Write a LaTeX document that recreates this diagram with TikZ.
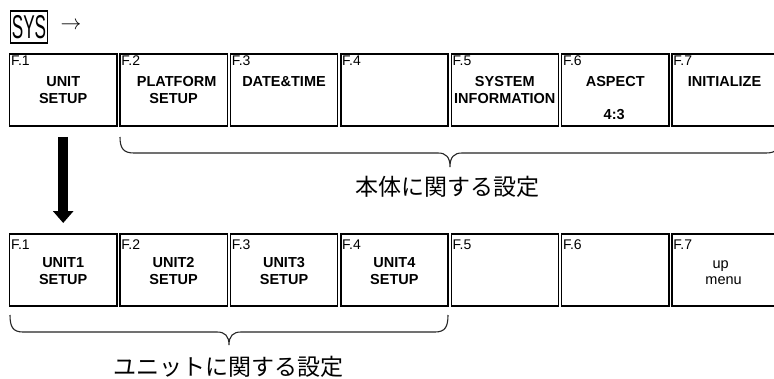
\documentclass[tikz,border=0pt]{standalone}
\usepackage{fontspec}
\setmainfont{Liberation Sans}
\newfontfamily\jpfont{Noto Sans CJK JP}
\usetikzlibrary{calc,arrows.meta}

\tikzset{
  fkey/.style={draw=black, line width=1.4pt, minimum width=107.2pt, minimum height=71.8pt,
               inner sep=0pt, outer sep=0pt, anchor=north west},
  fnum/.style={anchor=base west, inner sep=0pt, font=\fontsize{14}{15}\selectfont},
  fname/.style={anchor=base, inner sep=0pt, font=\fontsize{14.5}{15}\selectfont\bfseries},
  fplain/.style={anchor=base, inner sep=0pt, font=\fontsize{14.5}{15}\selectfont},
  bracepath/.style={draw=black!85, line width=1.1pt},
  jlabel/.style={inner sep=0pt, font=\jpfont\fontsize{23}{23}\selectfont},
  sysbox/.style={draw=black, line width=1.6pt, minimum width=37pt, minimum height=32pt, inner sep=0pt},
  bigarrow/.style={line width=10pt, -{Triangle[width=20pt,length=12pt]}, shorten <=11pt, shorten >=11pt},
}

\newcommand\mykey[5]{% name, x, y, F label, F offset
  \node[fkey] (#1) at (#2,#3) {};
  \node[fnum] (#1f) at ($(#1.north west)+(1.2,#5)$) {#4};
}

\begin{document}
\begin{tikzpicture}[x=1pt,y=-1pt]
\useasboundingbox (0,0) rectangle (774,378);
\fill[white] (0,0) rectangle (774,378);
\clip (0,0) rectangle (774,378);

% header
\node[sysbox] (sys) at (29,26.7) {\scalebox{0.52}[1]{\fontsize{33}{33}\selectfont SYS}};
\node[inner sep=0pt] (arr) at (71,25.5) {\fontsize{20}{20}\selectfont$\rightarrow$};

% top row
\mykey{t1}{9.6}{54}{F.1}{11.7}
\mykey{t2}{120}{54}{F.2}{11.7}
\mykey{t3}{230.4}{54}{F.3}{11.7}
\mykey{t4}{340.8}{54}{F.4}{11.7}
\mykey{t5}{451.2}{54}{F.5}{11.7}
\mykey{t6}{561.6}{54}{F.6}{11.7}
\mykey{t7}{672}{54}{F.7}{11.7}

\node[fname] (t1a) at ($(t1.north)+(0,32)$) {UNIT};
\node[fname] (t1b) at ($(t1.north)+(0,49.3)$) {SETUP};
\node[fname] (t2a) at ($(t2.north)+(3,32)$) {PLATFORM};
\node[fname] (t2b) at ($(t2.north)+(0,49.3)$) {SETUP};
\node[fname] (t3a) at ($(t3.north)+(0,32)$) {DATE\&TIME};
\node[fname] (t5a) at ($(t5.north)+(0,32)$) {SYSTEM};
\node[fname] (t5b) at ($(t5.north)+(0,49.3)$) {INFORMATION};
\node[fname] (t6a) at ($(t6.north)+(0,32)$) {ASPECT};
\node[fname] (t6b) at ($(t6.north)+(-1,65)$) {4:3};
\node[fname] (t7a) at ($(t7.north)+(-1,32)$) {INITIALIZE};

% bottom row
\mykey{b1}{9.6}{234}{F.1}{15.3}
\mykey{b2}{120}{234}{F.2}{15.3}
\mykey{b3}{230.4}{234}{F.3}{15.3}
\mykey{b4}{340.8}{234}{F.4}{15.3}
\mykey{b5}{451.2}{234}{F.5}{15.3}
\mykey{b6}{561.6}{234}{F.6}{15.3}
\mykey{b7}{672}{234}{F.7}{15.3}

\node[fname] (b1a) at ($(b1.north)+(0,33.3)$) {UNIT1};
\node[fname] (b1b) at ($(b1.north)+(0,50)$) {SETUP};
\node[fname] (b2a) at ($(b2.north)+(0,33.3)$) {UNIT2};
\node[fname] (b2b) at ($(b2.north)+(0,50)$) {SETUP};
\node[fname] (b3a) at ($(b3.north)+(0,33.3)$) {UNIT3};
\node[fname] (b3b) at ($(b3.north)+(0,50)$) {SETUP};
\node[fname] (b4a) at ($(b4.north)+(0,33.3)$) {UNIT4};
\node[fname] (b4b) at ($(b4.north)+(0,50)$) {SETUP};
\node[fplain] (b7a) at ($(b7.north)+(-5,34.3)$) {up};
\node[fplain] (b7b) at ($(b7.north)+(-2,50.3)$) {menu};

% big down arrow
\draw[bigarrow] (t1.south) -- (b1.north);

% braces
\path[bracepath] (120,137) .. controls (120,149) and (124,153) .. (134,153)
  -- (438,153) .. controls (446,153) and (450,157) .. (450,167)
  .. controls (450,157) and (454,153) .. (462,153)
  -- (766,153) .. controls (776,153) and (780,149) .. (780,137);
\path[bracepath] (10,315) .. controls (10,327) and (13,332) .. (23,332)
  -- (217,332) .. controls (225,332) and (229,336) .. (229,345)
  .. controls (229,336) and (233,332) .. (241,332)
  -- (435,332) .. controls (445,332) and (448,327) .. (448,315);

% labels
\node[jlabel] (lbl1) at (447.5,187) {本体に関する設定};
\node[jlabel] (lbl2) at (228,367) {ユニットに関する設定};
\end{tikzpicture}
\end{document}
